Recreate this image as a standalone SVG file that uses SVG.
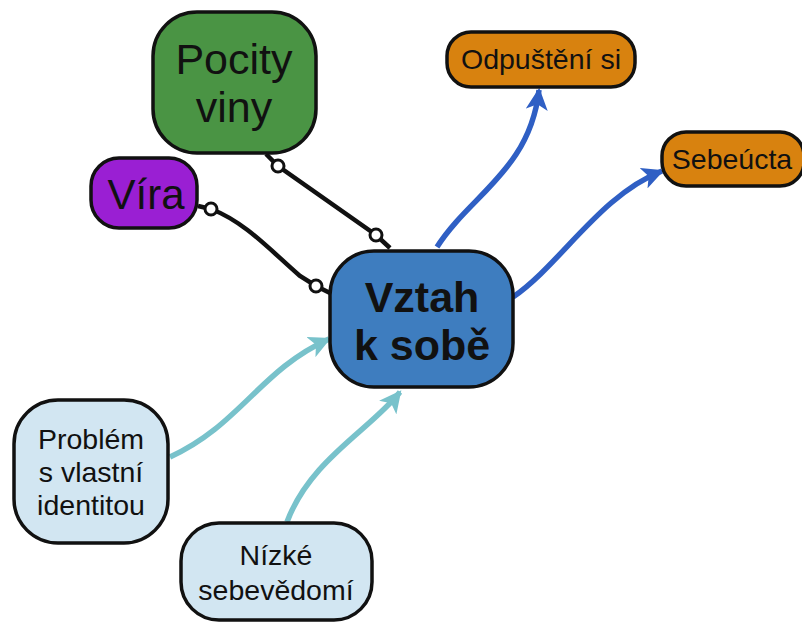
<svg xmlns="http://www.w3.org/2000/svg" width="802" height="623" viewBox="0 0 802 623">
  <style>
    .box { stroke: #111; stroke-width: 3.5; }
    .t { font-family: "Liberation Sans", Arial, sans-serif; fill: #111; text-anchor: middle; }
    .link { fill: none; stroke: #111; stroke-width: 4.5; }
    .dot { fill: #fff; stroke: #111; stroke-width: 3; }
    .blue { fill: none; stroke: #2f5fc4; stroke-width: 5.5; }
    .teal { fill: none; stroke: #78c2cb; stroke-width: 5.5; }
  </style>
  <defs>
    <marker id="arrBlue" viewBox="0 0 10 10" refX="9" refY="5" markerWidth="4" markerHeight="4" orient="auto" markerUnits="strokeWidth">
      <path d="M0,0 L10,5 L0,10 L2.5,5 Z" fill="#2f5fc4"/>
    </marker>
    <marker id="arrTeal" viewBox="0 0 10 10" refX="9" refY="5" markerWidth="4" markerHeight="4" orient="auto" markerUnits="strokeWidth">
      <path d="M0,0 L10,5 L0,10 L2.5,5 Z" fill="#78c2cb"/>
    </marker>
  </defs>

  <rect width="802" height="623" fill="#fff"/>

  <g id="connectors">
    <!-- associations into the centre -->
    <path class="link" d="M266,154 L278,166 L376,235 L390,248"/>
    <circle class="dot" cx="278" cy="166" r="6"/>
    <circle class="dot" cx="376" cy="235" r="6"/>
    <path class="link" d="M198,206 L211,209 C245,222 270,250 300,276 L316,286 L330,293"/>
    <circle class="dot" cx="211" cy="209" r="6"/>
    <circle class="dot" cx="316" cy="286" r="6"/>
    <!-- outgoing -->
    <path class="blue" d="M437,247 C470,195 530,170 539,90" marker-end="url(#arrBlue)"/>
    <path class="blue" d="M513,297 C560,265 600,195 662,171" marker-end="url(#arrBlue)"/>
    <!-- incoming -->
    <path class="teal" d="M170,457 C240,425 260,370 329,339" marker-end="url(#arrTeal)"/>
    <path class="teal" d="M287,522 C310,460 370,430 400,392" marker-end="url(#arrTeal)"/>
  </g>

  <g id="pocity-viny">
    <rect class="box" x="153" y="12" width="163" height="141" rx="44" fill="#4a9444"/>
    <text class="t" x="234" y="74" font-size="43">Pocity</text>
    <text class="t" x="234" y="122" font-size="43">viny</text>
  </g>

  <g id="vira">
    <rect class="box" x="91" y="158" width="106" height="70" rx="28" fill="#9a1fd3"/>
    <text class="t" x="146" y="209" font-size="42">Víra</text>
  </g>

  <g id="vztah-k-sobe">
    <rect class="box" x="330" y="251" width="183" height="136" rx="44" fill="#3e7dbf"/>
    <text class="t" x="422" y="312" font-size="43" font-weight="bold">Vztah</text>
    <text class="t" x="422" y="360" font-size="43" font-weight="bold">k sobě</text>
  </g>

  <g id="odpusteni-si">
    <rect class="box" x="447" y="32" width="188" height="55" rx="24" fill="#d8820f"/>
    <text class="t" x="541" y="69" font-size="28.5">Odpuštění si</text>
  </g>

  <g id="sebeucta">
    <rect class="box" x="662" y="132" width="142" height="54" rx="24" fill="#d8820f"/>
    <text class="t" x="732" y="169" font-size="28.5">Sebeúcta</text>
  </g>

  <g id="problem-identita">
    <rect class="box" x="14" y="400" width="154" height="143" rx="44" fill="#d2e6f2"/>
    <text class="t" x="91" y="449" font-size="28.5">Problém</text>
    <text class="t" x="91" y="482" font-size="28.5">s vlastní</text>
    <text class="t" x="91" y="515" font-size="28.5">identitou</text>
  </g>

  <g id="nizke-sebevedomi">
    <rect class="box" x="181" y="523" width="191" height="97" rx="38" fill="#d2e6f2"/>
    <text class="t" x="276" y="565" font-size="28.5">Nízké</text>
    <text class="t" x="276" y="600" font-size="28.5">sebevědomí</text>
  </g>
</svg>
